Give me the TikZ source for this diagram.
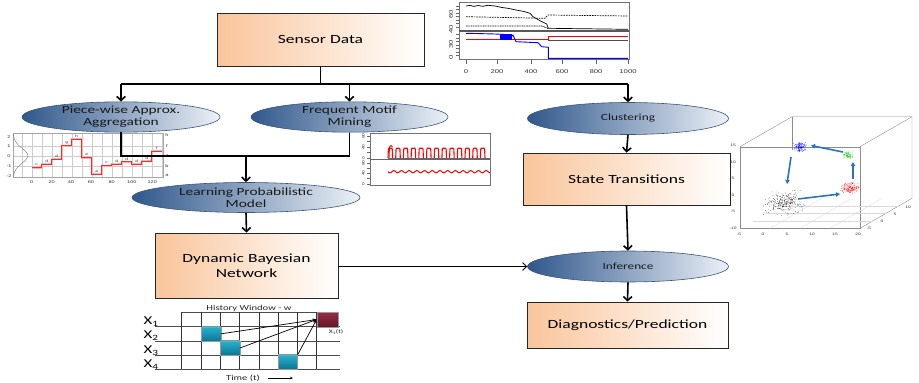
\documentclass[tikz,border=0pt]{standalone}
\usepackage{fontspec}
\setmainfont{Carlito}[FakeStretch=1.4]
\newfontfamily\plotfont{Liberation Sans}[FakeStretch=1.4]
\usetikzlibrary{arrows.meta,shapes.geometric,shadows,calc}

\definecolor{boxorange}{RGB}{249,197,155}
\definecolor{stageblue}{RGB}{48,88,140}
\definecolor{stagelight}{RGB}{236,241,247}
\definecolor{stageedge}{RGB}{60,85,120}
\definecolor{cellcyan}{RGB}{40,178,205}
\definecolor{cellcyandark}{RGB}{12,118,148}
\definecolor{cellmaroon}{RGB}{150,45,70}
\definecolor{cellmaroondark}{RGB}{100,22,40}
\definecolor{transblue}{RGB}{38,118,190}
\definecolor{dotgreen}{RGB}{40,200,40}

\begin{document}
\begin{tikzpicture}[x=1pt,y=-1pt,
  procbox/.style={draw=black!85, line width=0.8pt, left color=boxorange, right color=white,
    inner sep=0pt, align=center, font=\fontsize{12.5}{14.5}\selectfont,
    drop shadow={shadow xshift=1.2pt, shadow yshift=-1.2pt, opacity=0.35}},
  stage/.style={ellipse, draw=stageedge, line width=0.6pt, left color=stageblue, right color=stagelight,
    inner sep=0pt, align=center, text=black!90, font=\fontsize{11}{12}\selectfont},
  smallstage/.style={stage, font=\fontsize{9.5}{11}\selectfont},
  flow/.style={draw=black, line width=1.6pt},
  arr/.style={-{Straight Barb[length=4pt,width=8.5pt]}},
  plab/.style={font=\plotfont\fontsize{5.5}{6}\selectfont, inner sep=0pt, text=black!80},
  frame/.style={draw=black!55, line width=0.4pt},
  cell/.style={minimum width=19.5pt, minimum height=14.3pt, inner sep=0pt, draw=black!40, line width=0.3pt,
    top color=cellcyan, bottom color=cellcyandark},
  hist/.style={-{Stealth[length=4pt,width=3pt]}, line width=0.7pt},
  trans/.style={-{Triangle[length=4pt,width=4.5pt]}, draw=transblue, line width=1.6pt},
]
\useasboundingbox (0,0) rectangle (919,383);

% ---------------- raw sensor traces ----------------
\draw[frame] (459,2) rectangle (629,59);
\draw[black!65, line width=1.2pt] (459,31) -- (629,31);
\foreach \ty in {6,9.5,13,16.5,20,23.5,27,34.5,38,41.5,45,48.5,52,55.5}
  \draw[black!60, line width=0.4pt] (455.5,\ty) -- (459,\ty);
\node[plab, rotate=90] at (451,14) {60};
\node[plab, rotate=90] at (451,29) {40};
\node[plab, rotate=90] at (451,44) {30};
\node[plab, rotate=90] at (451,57) {0};
\foreach \tx/\tl in {466/0,497/200,531/400,562/600,596/800,628/1000}{
  \draw[black!60, line width=0.4pt] (\tx,59) -- (\tx,64);
  \node[plab] at (\tx,72) {\tl};
}
\draw[black, line width=0.7pt] (466,6) -- (470,5.4) -- (474,6.4) -- (478,5.5) -- (483,6.3) -- (488,5.3)
  -- (495,6) -- (502,7.5) -- (508,8.3) -- (516,10) -- (524,11.5) -- (530,13.3) -- (533,16.7)
  -- (540,20.7) -- (546.7,24) -- (548.3,28.3) -- (628,29.3);
\draw[black, line width=0.7pt, dash pattern=on 1.6pt off 1pt] (466,16.7) -- (545,18.3) -- (548,15) -- (628,16);
\draw[black, line width=0.7pt, dash pattern=on 1pt off 0.7pt] (466,26) -- (542,26) -- (548,28.5);
\draw[red, line width=0.8pt] (466,39.3) -- (548,39.3) -- (548,36) -- (628,36);
\draw[black!70, line width=0.5pt] (548,40.7) -- (628,40.7);
\fill[blue] (500,33.5) rectangle (512,39.5);
\draw[blue, line width=0.9pt] (466,33.3) -- (480,33.6) -- (495,34) -- (505,34.5) -- (510,38) -- (513,35)
  -- (516,41.7) -- (538,42.7) -- (541.7,46.7) -- (548.3,47.3) -- (548.3,58.3) -- (628,58.3);

% ---------------- piece-wise approximation plot ----------------
\draw[black!20, line width=0.3pt] foreach \gx in {21.7,31.7,...,161.7} {(\gx,133.3) -- (\gx,176.7)};
\draw[black!20, line width=0.3pt] foreach \gy in {145.7,155.7,165.7} {(13.3,\gy) -- (163.3,\gy)};
\draw[frame, black!35] (13.3,133.3) rectangle (163.3,176.7);
\draw[black!55, line width=0.4pt] plot[domain=133.3:176.7, samples=50]
  ({13.3 + 14.5*exp(-(\x-155.7)*(\x-155.7)/110)}, \x);
\foreach \ly/\lt in {136.7/2,145.7/1,155.7/0,165.7/-1,175.7/-2}
  \node[plab, font=\plotfont\fontsize{4}{5}\selectfont] at (9,\ly) {\lt};
\foreach \ly/\lt in {135/h,145.7/f,155.7/d,165.7/b,175.7/a}
  \node[plab, font=\plotfont\fontsize{4}{5}\selectfont] at (167,\ly) {\lt};
\foreach \lx/\lt in {31.7/0,51.7/20,71/40,91/60,111.7/80,131.7/100,152.3/120}
  \node[plab, font=\plotfont\fontsize{4}{5}\selectfont] at (\lx,182) {\lt};
\draw[red!30, line width=2.2pt] (31.7,167.7) -- (41.7,167.7) -- (41.7,164) -- (51.7,164) -- (51.7,159.3)
  -- (61.7,159.3) -- (61.7,145.7) -- (71.7,145.7) -- (71.7,139) -- (81.7,139) -- (81.7,157.7)
  -- (91.7,157.7) -- (91.7,174) -- (101.7,174) -- (101.7,165.7) -- (111.7,165.7) -- (111.7,164)
  -- (121.7,164) -- (121.7,161.7) -- (131.7,161.7) -- (131.7,164) -- (141.7,164) -- (141.7,161)
  -- (151.7,161) -- (151.7,151) -- (161.7,151);
\draw[red!85, line width=0.9pt] (31.7,167.7) -- (41.7,167.7) -- (41.7,164) -- (51.7,164) -- (51.7,159.3)
  -- (61.7,159.3) -- (61.7,145.7) -- (71.7,145.7) -- (71.7,139) -- (81.7,139) -- (81.7,157.7)
  -- (91.7,157.7) -- (91.7,174) -- (101.7,174) -- (101.7,165.7) -- (111.7,165.7) -- (111.7,164)
  -- (121.7,164) -- (121.7,161.7) -- (131.7,161.7) -- (131.7,164) -- (141.7,164) -- (141.7,161)
  -- (151.7,161) -- (151.7,151) -- (161.7,151);
\foreach \sx/\sy/\st in {36.7/167.7/c,46.7/164/d,56.7/159.3/d,66.7/145.7/g,76.7/139/h,86.7/157.7/e,
  96.7/174/a,106.7/165.7/c,116.7/164/d,126.7/161.7/d,136.7/164/d,146.7/161/d,156.7/151/f}
  \node[plab, font=\plotfont\fontsize{3.5}{4}\selectfont] at (\sx,\sy-2.8) {\st};

% ---------------- motif plot ----------------
\draw[frame] (370,133) rectangle (490,185);
\draw[black!60, line width=0.6pt] (370,159.3) -- (490,159.3);
\foreach \ty in {136,141.5,147,152.5,158,163,168,173,178.5,184}
  \draw[black!60, line width=0.4pt] (367,\ty) -- (370,\ty);
\foreach \ly/\lt in {136/80,147/40,158/0,163/80,173/40,184/0}
  \node[plab, rotate=90, font=\plotfont\fontsize{3.5}{4}\selectfont] at (363.5,\ly) {\lt};
\draw[black!60, line width=0.5pt] (388,158.2) -- (490,158.2);
\foreach \k in {0,...,12}
  \draw[red, line width=1.1pt, rounded corners=0.8pt] ({388+7.7*\k},158.2) -- ++(0.4,-10) -- ++(3.8,0) -- ++(0.4,10);
\draw[red, line width=0.9pt] (389,158.2) -- (389.5,147) -- (391,145.5) -- (392.5,147);
\draw[red, line width=1pt] plot[domain=388:490, samples=140] (\x, {171.7 + 1.1*sin((\x-388)/7.7*360)});

% ---------------- state space scatter ----------------
\draw[black!45, line width=0.4pt] (740,146.7) rectangle (860,228.3);
\draw[black!45, line width=0.4pt] (740,146.7) -- (792,116.7) -- (912,116.7) -- (912,198.3) -- (860,228.3);
\draw[black!45, line width=0.4pt] (860,146.7) -- (912,116.7);
\draw[black!45, line width=0.4pt] (792,116.7) -- (792,150);
\draw[black!15, line width=0.3pt] foreach \f in {0.25,0.5,0.75} {($(740,228.3)!\f!(860,228.3)$) -- ++(52,-30)};
\draw[black!15, line width=0.3pt] foreach \f in {0.25,0.5,0.75} {($(740,228.3)!\f!(792,198.3)$) -- ++(120,0)};
\foreach \ly/\lt in {145/15,162.3/10,178.3/5,195/0,211.7/-5,228.3/-10}
  \node[plab, font=\plotfont\fontsize{3.5}{4}\selectfont] at (733,\ly) {\lt};
\foreach \lx/\lt in {739/-5,763/0,787/5,812/10,835/15,858/20}
  \node[plab, font=\plotfont\fontsize{3.5}{4}\selectfont] at (\lx,234.5) {\lt};
\foreach \lx/\ly/\lt in {908/207/10,895/214.5/5,882/221.5/0,869/228.5/-5}
  \node[plab, font=\plotfont\fontsize{3.5}{4}\selectfont] at (\lx,\ly) {\lt};
\pgfmathsetseed{11}
\foreach \i in {1,...,260}
  \fill[black!85] ({784+14*(rand+rand+rand)/1.5},{203+8*(rand+rand+rand)/1.5}) circle (0.35pt);
\foreach \i in {1,...,120}
  \fill[blue] ({800+3.6*(rand+rand)},{147+2.6*(rand+rand)}) circle (0.35pt);
\foreach \i in {1,...,90}
  \fill[dotgreen] ({848+2.6*(rand+rand)},{155+2*(rand+rand)}) circle (0.35pt);
\foreach \i in {1,...,150}
  \fill[red] ({850+5*(rand+rand)},{188+3.2*(rand+rand)}) circle (0.35pt);
\coordinate (sBlack) at (798,199);
\coordinate (sRed) at (840,194);
\coordinate (sRedTop) at (853,179);
\coordinate (sGreen) at (853,162);
\coordinate (sGreenL) at (843,152);
\coordinate (sBlue) at (811,145.5);
\coordinate (sBlueB) at (791,157);
\coordinate (sBlackT) at (787,184);
\draw[trans] (sBlack) -- (sRed);
\draw[trans] (sRedTop) -- (sGreen);
\draw[trans] (sGreenL) -- (sBlue);
\draw[trans] (sBlueB) -- (sBlackT);

% ---------------- process boxes and stages ----------------
\node[procbox, minimum width=207pt, minimum height=53pt] (sensor) at (320.5,39.5) {Sensor Data};
\node[stage, minimum width=198pt, minimum height=30pt] (paa) at (121,117) {Piece-wise Approx.\\Aggregation};
\node[stage, minimum width=197pt, minimum height=30pt] (fmm) at (349.5,117) {Frequent Motif\\Mining};
\node[smallstage, minimum width=201pt, minimum height=32pt] (clus) at (628,118.5) {Clustering};
\node[stage, minimum width=228pt, minimum height=30pt] (learn) at (246,197.5) {Learning Probabilistic\\Model};
\node[procbox, minimum width=183pt, minimum height=65pt] (dbn) at (246.5,265.5) {Dynamic Bayesian\\Network};
\node[procbox, minimum width=207pt, minimum height=52pt] (state) at (626.5,179) {State Transitions};
\node[smallstage, minimum width=201pt, minimum height=31pt] (inf) at (628,266.5) {Inference};
\node[procbox, minimum width=201pt, minimum height=46pt] (diag) at (627.5,325) {Diagnostics/Prediction};

% ---------------- connectors ----------------
\coordinate (bus) at (0,84);
\coordinate (join) at (0,155.7);
\draw[flow] (sensor.south) -- (sensor.south |- bus);
\draw[flow] (paa.north |- bus) -- (clus.north |- bus);
\draw[flow,arr] (paa.north |- bus) -- (paa.north);
\draw[flow,arr] (fmm.north |- bus) -- (fmm.north);
\draw[flow,arr] (clus.north |- bus) -- (clus.north);
\draw[flow] (paa.south) -- (paa.south |- join) -- (fmm.south |- join) -- (fmm.south);
\draw[flow,arr] (learn.north |- join) -- (learn.north);
\draw[flow,arr] (learn.south) -- (dbn.north);
\draw[flow,arr] (clus.south) -- (state.north);
\draw[flow,arr] (state.south) -- (inf.north);
\draw[flow,arr] (inf.south) -- (diag.north);
\draw[draw=black, line width=0.9pt, -{Straight Barb[length=4pt,width=8pt]}] (dbn.east |- inf.west) -- (inf.west);

% ---------------- history window ----------------
\draw[black!70, line width=0.6pt] (181.7,312.3) -- (316.7,312.3);
\foreach \ry in {326.7,341,355,369}
  \draw[black!70, line width=0.6pt] (155,\ry) -- (340,\ry);
\foreach \k in {0,...,7}
  \draw[black!80, line width=0.6pt] ({181.7+19.29*\k},312.3) -- ({181.7+19.29*\k},369);
\node[cell] (c2) at (211.3,333.8) {};
\node[cell] (c3) at (230,348) {};
\node[cell] (c4) at (287.8,362) {};
\node[cell, minimum width=21.5pt, top color=cellmaroon, bottom color=cellmaroondark] (tgt) at (327.5,319.5) {};
\draw[hist] (c2.east) -- (tgt.west);
\draw[hist] (c3.east) -- (tgt.west);
\draw[hist] (c4.north east) -- (tgt.west);
\foreach \n/\ly in {1/321.5,2/336,3/350.5,4/364.5}
  \node[font=\fontsize{12}{12}\selectfont, inner sep=0pt] (xl\n) at (151,\ly) {X\textsubscript{\n}};
\node[font=\fontsize{7.6}{8}\selectfont, inner sep=0pt, text=black!85] (hw) at (249,308) {History Window - w};
\node[font=\fontsize{5.5}{6}\selectfont, inner sep=0pt, text=black!85] (xt) at (336,332) {X\textsubscript{1}(t)};
\node[font=\fontsize{7.6}{8}\selectfont, inner sep=0pt, text=black!85] (tt) at (243,378) {Time (t)};
\coordinate (tArrowEnd) at (293,378);
\draw[-{Stealth[length=3pt,width=2.5pt]}, line width=0.6pt] ($(tt.east)+(8,0)$) -- (tArrowEnd);
\end{tikzpicture}
\end{document}
